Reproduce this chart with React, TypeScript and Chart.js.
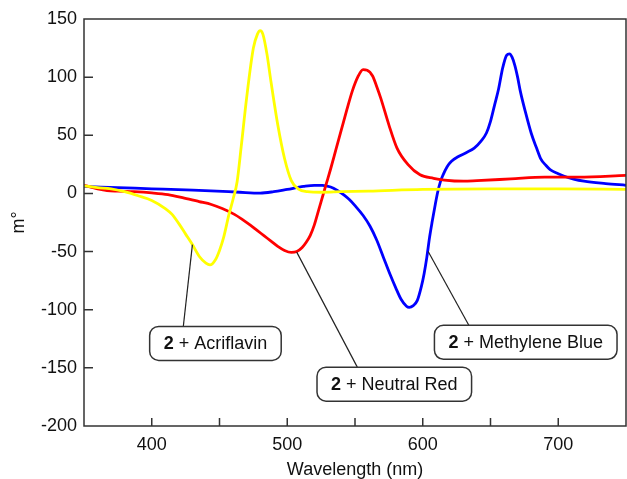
import React, { useEffect, useRef } from "react";
import { Chart, registerables } from "chart.js";

Chart.register(...registerables);

// ---- Data (wavelength in nm, ellipticity in m°) ----
const acriflavinX = [350, 360, 370, 380, 390, 400, 410, 415, 420, 425, 430, 435, 440, 443, 447, 450, 453, 457, 460, 463, 466, 470, 475, 478, 480, 482, 485, 488, 493, 498, 503, 508, 515, 525, 540, 560, 600, 650, 700, 750];
const acriflavinY = [6.5, 5, 4, 1.5, -2, -6, -13, -18, -26, -35, -44, -54, -60, -61.5, -57, -49, -38, -18, -5, 10, 40, 82, 125, 137, 140, 137, 120, 96, 59, 30, 11, 4, 1.5, 1, 1.5, 2, 3.5, 4, 4, 3.5];

const neutralRedX = [350, 355, 360, 367, 375, 387, 400, 412, 424, 435, 444, 452, 461, 467, 473, 478, 483, 488, 493, 498, 503, 507, 511, 514, 517, 520, 523, 526, 529, 532, 536, 540, 544, 548, 552, 556, 559, 563, 566, 569, 575, 581, 589, 598, 608, 616, 630, 640, 665, 690, 715, 750];
const neutralRedY = [7, 5.5, 4, 2.5, 2, 1.5, 0.5, -1, -4, -7, -9.5, -13, -18, -22.5, -27.5, -32, -36.5, -41, -45.5, -49, -50.7, -50, -46.5, -42, -36, -27, -15, -3, 9, 21, 38, 55, 72, 88, 100, 106.5, 106, 101, 92, 82, 59, 39, 25, 16, 13, 11.5, 10.5, 11, 12.5, 14, 14, 15.5];

const methyleneBlueX = [350, 375, 400, 425, 448, 465, 480, 490, 500, 512, 520, 526, 532, 537, 542, 546, 550, 556, 561, 566, 571, 576, 580, 584, 588, 590, 593, 596, 599, 601, 603, 605, 607, 609, 611, 613, 615, 618, 621, 626, 632, 638, 643, 647, 650, 653, 656, 659, 662, 664, 666, 668, 670, 672, 676, 680, 684, 687, 691, 694, 700, 704, 712, 719, 735, 750];
const methyleneBlueY = [6, 5, 4, 3, 2, 1, 0.3, 1.5, 3.5, 6, 7, 7, 5.5, 2.5, -1.5, -5.5, -10.5, -19, -28, -40, -55, -70, -81, -91, -97, -98, -96.5, -92, -80, -69, -55, -38, -24, -11, 1, 10, 16, 23, 27.5, 31.5, 35, 39, 45, 52, 62, 76, 90, 108, 119, 120, 117, 110, 100, 88, 69, 52, 39, 30, 24, 20.5, 17, 15, 12, 10.5, 8.5, 7];

const xMin = 350;
const xMax = 750;
const xStep = 50;
const xLabelEvery = 100;
const yMin = -200;
const yMax = 150;
const yStep = 50;

const xTitle = "Wavelength (nm)";
const yTitle = "m°";

// Callout labels: bold part, plain part, anchor on curve (data), box centre (data), leader end x on box top (data)
const calloutBold = ["2", "2", "2"];
const calloutText = [" + Acriflavin", " + Neutral Red", " + Methylene Blue"];
const calloutAnchorX = [430, 507, 604];
const calloutAnchorY = [-44, -50.5, -50];
const calloutBoxX = [447, 579, 676];
const calloutBoxY = [-129, -164, -128];
const calloutLeaderX = [423.3, 551.7, 634];

const FONT = "Arial, 'Liberation Sans', Helvetica, sans-serif";
const INK = "#111111";
const FRAME = "#333333";

function toPts(xs: number[], ys: number[]) {
  return xs.map((x, i) => ({ x, y: ys[i] }));
}

const framePlugin = {
  id: "frameAndCallouts",
  afterDatasetsDraw(chart: any) {
    const { ctx, chartArea, scales } = chart;
    const { left, right, top, bottom } = chartArea;
    const x = scales.x;
    const y = scales.y;
    ctx.save();
    ctx.strokeStyle = FRAME;
    ctx.lineWidth = 1.5;
    ctx.strokeRect(left, top, right - left, bottom - top);

    // inward tick marks
    ctx.beginPath();
    x.ticks.forEach((t: any) => {
      const px = x.getPixelForValue(t.value);
      if (px <= left + 1 || px >= right - 1) return;
      ctx.moveTo(px, bottom);
      ctx.lineTo(px, bottom - 8);
    });
    y.ticks.forEach((t: any) => {
      const py = y.getPixelForValue(t.value);
      if (py <= top + 1 || py >= bottom - 1) return;
      ctx.moveTo(left, py);
      ctx.lineTo(left + 9, py);
    });
    ctx.stroke();

    // callouts
    const fs = 18;
    const boldFont = `bold ${fs}px ${FONT}`;
    const normFont = `${fs}px ${FONT}`;
    const boxH = 34;
    const padX = 14;
    const radius = 9;
    for (let i = 0; i < calloutText.length; i++) {
      ctx.font = boldFont;
      const wb = ctx.measureText(calloutBold[i]).width;
      ctx.font = normFont;
      const wn = ctx.measureText(calloutText[i]).width;
      const tw = wb + wn;
      const bw = tw + padX * 2;
      const cx = x.getPixelForValue(calloutBoxX[i]);
      const cy = y.getPixelForValue(calloutBoxY[i]);
      const bx = cx - bw / 2;
      const by = cy - boxH / 2;

      // leader line
      ctx.strokeStyle = "#222";
      ctx.lineWidth = 1.2;
      ctx.beginPath();
      ctx.moveTo(x.getPixelForValue(calloutLeaderX[i]), by);
      ctx.lineTo(x.getPixelForValue(calloutAnchorX[i]), y.getPixelForValue(calloutAnchorY[i]));
      ctx.stroke();

      // box
      ctx.beginPath();
      ctx.moveTo(bx + radius, by);
      ctx.lineTo(bx + bw - radius, by);
      ctx.arcTo(bx + bw, by, bx + bw, by + radius, radius);
      ctx.lineTo(bx + bw, by + boxH - radius);
      ctx.arcTo(bx + bw, by + boxH, bx + bw - radius, by + boxH, radius);
      ctx.lineTo(bx + radius, by + boxH);
      ctx.arcTo(bx, by + boxH, bx, by + boxH - radius, radius);
      ctx.lineTo(bx, by + radius);
      ctx.arcTo(bx, by, bx + radius, by, radius);
      ctx.closePath();
      ctx.fillStyle = "#ffffff";
      ctx.fill();
      ctx.strokeStyle = FRAME;
      ctx.lineWidth = 1.5;
      ctx.stroke();

      // text
      ctx.fillStyle = INK;
      ctx.textBaseline = "middle";
      ctx.textAlign = "left";
      const tx = cx - tw / 2;
      ctx.font = boldFont;
      ctx.fillText(calloutBold[i], tx, cy + 1);
      ctx.font = normFont;
      ctx.fillText(calloutText[i], tx + wb, cy + 1);
    }
    ctx.restore();
  },
};

export default function App() {
  const canvasRef = useRef<HTMLCanvasElement | null>(null);

  useEffect(() => {
    const canvas = canvasRef.current;
    if (!canvas) return;
    const chart = new Chart(canvas, {
      type: "line",
      data: {
        datasets: [
          {
            label: "2 + Acriflavin",
            data: toPts(acriflavinX, acriflavinY),
            borderColor: "#ffff00",
            borderWidth: 2.8,
            pointRadius: 0,
            cubicInterpolationMode: "monotone",
            fill: false,
          },
          {
            label: "2 + Neutral Red",
            data: toPts(neutralRedX, neutralRedY),
            borderColor: "#ff0000",
            borderWidth: 2.8,
            pointRadius: 0,
            cubicInterpolationMode: "monotone",
            fill: false,
          },
          {
            label: "2 + Methylene Blue",
            data: toPts(methyleneBlueX, methyleneBlueY),
            borderColor: "#0000ff",
            borderWidth: 2.8,
            pointRadius: 0,
            cubicInterpolationMode: "monotone",
            fill: false,
          },
        ],
      },
      options: {
        responsive: false,
        animation: false,
        events: [],
        layout: { padding: { top: 19, right: 1, left: 0, bottom: 0 } },
        plugins: {
          legend: { display: false },
          tooltip: { enabled: false },
          title: { display: false },
        },
        scales: {
          x: {
            type: "linear",
            min: xMin,
            max: xMax,
            grid: { display: false, drawTicks: false },
            border: { display: false },
            ticks: {
              stepSize: xStep,
              autoSkip: false,
              maxRotation: 0,
              padding: 8,
              color: INK,
              font: { family: FONT, size: 18 },
              callback: (v: any) => (Number(v) % xLabelEvery === 0 ? String(v) : ""),
            },
            title: {
              display: true,
              text: xTitle,
              color: INK,
              font: { family: FONT, size: 18, lineHeight: 1 },
              padding: { top: 0, bottom: 0 },
            },
            afterFit: (scale: any) => {
              scale.height = 53;
              scale.paddingRight = 0;
              scale.paddingLeft = 0;
            },
          },
          y: {
            type: "linear",
            min: yMin,
            max: yMax,
            grid: { display: false, drawTicks: false },
            border: { display: false },
            ticks: {
              stepSize: yStep,
              padding: 7,
              color: INK,
              font: { family: FONT, size: 18 },
            },
            title: {
              display: true,
              text: yTitle,
              color: INK,
              font: { family: FONT, size: 18, lineHeight: 1 },
              padding: { top: 10, bottom: 0 },
            },
            afterFit: (scale: any) => {
              scale.width = 84;
            },
          },
        },
      },
      plugins: [framePlugin],
    });
    return () => chart.destroy();
  }, []);

  return (
    <div style={{ position: "absolute", left: 0, top: 0, width: 627, height: 479, background: "#fff" }}>
      <canvas ref={canvasRef} width={627} height={479} style={{ display: "block" }} />
    </div>
  );
}
